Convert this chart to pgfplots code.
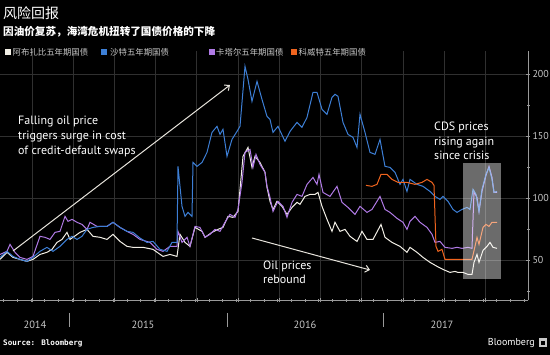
\documentclass[border=0pt]{standalone}
\usepackage{fontspec}
\setmainfont{PT Sans}
\newfontfamily\cjk{Noto Sans CJK SC}
\newfontfamily\monof{DejaVu Sans Mono}
\usepackage{pgfplots}
\pgfplotsset{compat=1.18}
\usetikzlibrary{arrows.meta}
\definecolor{cwhite}{HTML}{F2EFE6}
\definecolor{cblue}{HTML}{3D7FD6}
\definecolor{cpurple}{HTML}{B07AE6}
\definecolor{corange}{HTML}{F0641E}
\definecolor{cgrid}{HTML}{303030}
\definecolor{caxis}{HTML}{9A9A9A}
\definecolor{ctext}{HTML}{C8C8C8}
\begin{document}
\begin{tikzpicture}[x=1pt,y=1pt]
\fill[black] (0,0) rectangle (550,355);
\path[use as bounding box] (0,0) rectangle (550,355);
\begin{axis}[
  at={(0,44)}, anchor=south west, scale only axis,
  width=528pt, height=249pt,
  xmin=0, xmax=528, ymin=17.7, ymax=218.5,
  axis x line*=bottom, axis y line*=right,
  axis line style={caxis, line width=0.8pt},
  xtick={32,73.2,...,490}, xticklabels={},
  minor xtick={3.5,17.2,...,528},
  ytick={50,100,150,200}, minor ytick={25,75,125,175},
  xmajorgrids, ymajorgrids,
  major grid style={cgrid, line width=0.6pt},
  tick align=center, major tick length=4pt, minor tick length=3pt,
  tick style={caxis, line width=0.5pt},
  yticklabel style={font=\fontsize{10}{10}\selectfont, text=ctext, xshift=-1pt},
  /pgf/number format/assume math mode=true,
  clip=true,
]
\addplot[cwhite, line width=1pt] coordinates {
(0,50.8)(7,56.5)(13,52.4)(20,50.8)(27,49.2)(33,50.8)(40,54.8)(47,56.5)(52,58.9)(57,64.5)(62,66.9)(67,72.6)(70,66.9)(73,68.6)(80,72.6)(87,75.0)(93,69.4)(100,68.6)(107,66.9)(113,71.0)(120,65.3)(127,61.3)(133,60.5)(143,60.5)(153,58.9)(163,53.2)(170,54.8)(177,53.2)(180,71.0)(185,64.5)(190,61.3)(195,76.6)(202,73.4)(205,68.6)(212,72.6)(218,75.0)(223,76.6)(228,85.5)(233,84.7)(238,89.5)(243,133.9)(248,141.1)(252,125.0)(255,133.9)(260,129.0)(265,121.0)(267,108.9)(270,97.6)(273,91.1)(277,97.6)(282,93.6)(287,87.1)(292,92.7)(297,96.8)(300,95.2)(305,101.6)(310,103.2)(315,103.2)(318,104.8)(322,93.6)(327,83.1)(332,73.4)(335,80.7)(340,73.4)(345,75.0)(350,69.4)(357,65.3)(362,73.4)(367,66.9)(373,66.9)(381,79.0)(385,68.6)(392,64.5)(400,61.3)(407,56.5)(410,60.5)(417,56.5)(423,52.4)(430,48.4)(437,45.2)(443,42.7)(450,40.3)(455,41.1)(458,40.3)(463,40.3)(468,38.7)(472,38.7)(474,48.4)(477,54.8)(479,48.4)(483,58.1)(487,61.3)(490,64.5)(493,60.5)(497,59.7)
};
\addplot[cpurple, line width=1pt] coordinates {
(0,54.8)(7,57.3)(10,62.9)(15,56.5)(20,52.4)(27,50.8)(33,53.2)(40,69.4)(45,68.6)(50,66.9)(55,72.6)(60,73.4)(65,85.5)(68,81.5)(72,83.1)(77,80.7)(82,79.0)(87,75.0)(90,80.7)(97,77.4)(107,77.4)(113,80.7)(120,76.6)(127,73.4)(133,71.0)(140,66.9)(150,64.5)(157,58.9)(163,57.3)(170,61.3)(177,61.3)(178,73.4)(182,64.5)(187,68.6)(190,61.3)(195,77.4)(200,76.6)(205,68.6)(210,71.0)(215,75.0)(220,73.4)(225,80.7)(230,87.1)(235,84.7)(238,91.1)(242,112.9)(245,137.1)(250,139.5)(253,125.0)(256,135.5)(260,127.4)(265,121.0)(267,109.7)(270,100.8)(273,89.5)(278,97.6)(283,93.6)(287,84.7)(292,96.8)(297,103.2)(302,101.6)(307,111.3)(313,116.9)(317,111.3)(319,119.4)(323,104.8)(330,101.6)(337,109.7)(342,96.8)(348,92.7)(355,87.1)(360,93.6)(367,88.7)(372,91.1)(380,101.6)(385,91.1)(390,88.7)(397,83.9)(403,80.7)(407,75.0)(410,81.5)(415,85.5)(420,80.7)(427,76.6)(432,71.0)(435,64.5)(440,65.3)(445,60.5)(452,59.7)(457,60.5)(462,59.7)(468,60.5)(472,59.7)(474,105.6)(477,100.8)(479,89.5)(482,105.6)(486,118.6)(489,125.8)(492,116.9)(494,104.8)(497,104.8)
};
\addplot[cblue, line width=1pt] coordinates {
(0,52.4)(7,57.3)(13,53.2)(20,50.8)(27,49.2)(33,52.4)(40,57.3)(47,60.5)(53,57.3)(60,61.3)(67,66.9)(72,69.4)(77,66.9)(82,69.4)(87,75.0)(93,76.6)(100,77.4)(107,77.4)(113,80.7)(120,76.6)(127,73.4)(133,72.6)(140,68.0)(147,64.5)(153,65.3)(160,58.9)(167,57.3)(172,64.5)(177,64.5)(178,125.8)(182,93.6)(185,85.5)(188,88.7)(192,85.5)(193,129.0)(197,125.8)(202,129.0)(207,137.1)(212,153.2)(217,158.1)(220,151.6)(223,155.7)(227,133.9)(232,147.6)(237,154.0)(240,158.1)(245,206.5)(248,196.0)(252,178.2)(257,194.4)(262,179.8)(267,166.1)(270,163.7)(273,153.2)(278,158.1)(285,146.0)(290,154.0)(297,161.3)(302,157.3)(307,165.3)(313,185.5)(317,185.5)(322,171.8)(327,167.8)(332,181.5)(335,183.9)(338,182.3)(343,161.3)(348,151.6)(353,149.2)(357,141.1)(360,167.8)(365,153.2)(370,137.1)(375,135.5)(380,147.6)(385,125.8)(390,125.0)(395,121.0)(400,111.3)(403,115.3)(407,105.6)(410,115.3)(417,111.3)(423,109.7)(430,105.6)(435,101.6)(440,99.2)(443,101.6)(448,97.6)(453,91.1)(457,88.7)(462,91.1)(467,92.7)(470,91.1)(473,107.3)(476,103.2)(479,89.5)(482,107.3)(486,119.4)(489,125.0)(492,115.3)(494,104.8)(497,105.6)
};
\addplot[corange, line width=1pt] coordinates {
(366,110.5)(372,109.7)(377,111.3)(381,119.4)(387,119.4)(392,115.3)(398,112.9)(407,112.9)(415,111.3)(422,112.9)(427,115.3)(432,112.9)(434,110.5)(436,61.3)(438,57.3)(442,58.9)(445,50.8)(472,50.8)(475,61.3)(477,68.6)(479,62.9)(483,76.6)(486,79.0)(489,77.4)(492,80.7)(497,80.7)
};
\fill[white, opacity=0.42] (axis cs:463,34.7) rectangle (axis cs:501,128.2);
\end{axis}
% arrows
\draw[cwhite!90!gray, line width=1pt, -{Straight Barb[length=4pt,width=7pt]}] (13,104) -- (230,270);
\draw[cwhite!90!gray, line width=1pt, -{Straight Barb[length=4pt,width=7pt]}] (252,117) -- (370,85);
% annotations
\node[anchor=north west, align=left, text=white, font=\fontsize{12}{15}\selectfont, inner sep=0pt] at (18,239) {Falling oil price\\triggers surge in cost\\of credit-default swaps};
\node[anchor=north west, align=left, text=white, font=\fontsize{12}{14}\selectfont, inner sep=0pt] at (263,94) {Oil prices\\rebound};
\node[anchor=north west, align=left, text=white, font=\fontsize{12}{14.5}\selectfont, inner sep=0pt] at (434,233) {CDS prices\\rising again\\since crisis};
% titles
\node[anchor=west, text=white, inner sep=0pt, font=\cjk\fontsize{14}{16}\selectfont] at (3,342) {风险回报};
\node[anchor=west, text=white, inner sep=0pt, font=\cjk\bfseries\fontsize{10.6}{12}\selectfont] at (3,323) {因油价复苏，海湾危机扭转了国债价格的下降};
% legend
\fill[cwhite] (5,300) rectangle (11,306);
\node[anchor=west, text=ctext, inner sep=0pt, font=\cjk\fontsize{8.4}{10}\selectfont] at (12.5,303) {阿布扎比五年期国债};
\fill[cblue] (101,300) rectangle (107,306);
\node[anchor=west, text=ctext, inner sep=0pt, font=\cjk\fontsize{8.4}{10}\selectfont] at (110,303) {沙特五年期国债};
\fill[cpurple] (209,300) rectangle (215,306);
\node[anchor=west, text=ctext, inner sep=0pt, font=\cjk\fontsize{8.4}{10}\selectfont] at (216,303) {卡塔尔五年期国债};
\fill[corange] (291,300) rectangle (297,306);
\node[anchor=west, text=ctext, inner sep=0pt, font=\cjk\fontsize{8.4}{10}\selectfont] at (298.5,303) {科威特五年期国债};
% year labels and separators
\foreach \xx in {69,227,383} \draw[caxis, line width=0.6pt] (\xx,42) -- (\xx,28);
\foreach \xx/\yy in {35/2014,143/2015,305/2016,442/2017}
  \node[text=ctext, inner sep=0pt, font=\fontsize{10.5}{11}\selectfont] at (\xx,30) {\yy};
% footer
\node[anchor=west, text=white, inner sep=0pt, font=\monof\bfseries\fontsize{7.6}{9}\selectfont] at (3,12) {Source: Bloomberg};
\node[anchor=east, text=white, inner sep=0pt, font=\fontsize{10}{10}\selectfont] at (535,12) {Bloomberg};
\fill[ctext] (538.5,7.5) rectangle (546.5,16.5);
\fill[black] (540.5,10) rectangle (544.5,14);
\end{tikzpicture}
\end{document}
